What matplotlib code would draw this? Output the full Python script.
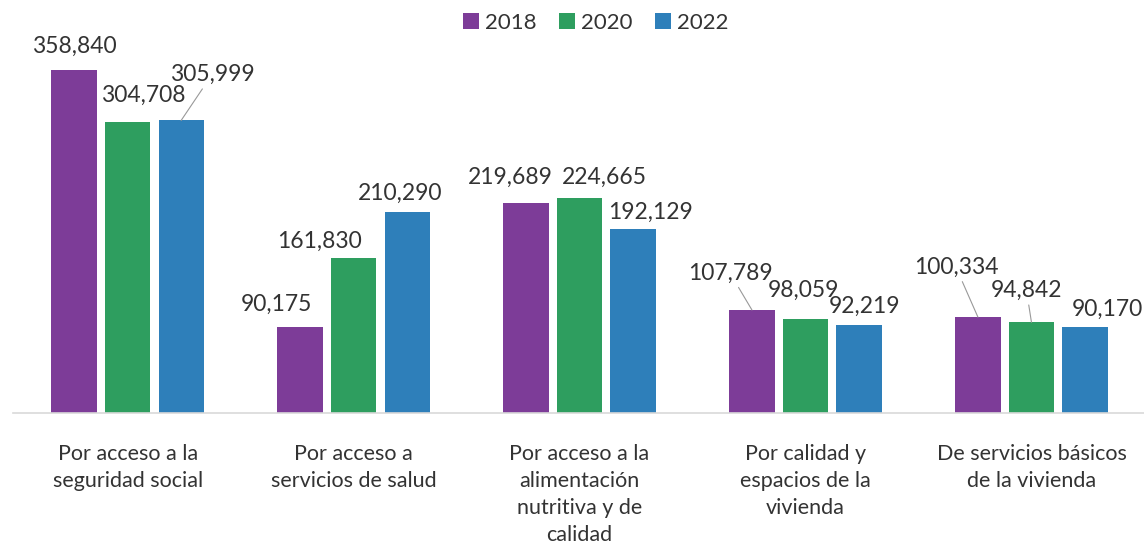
import matplotlib.pyplot as plt
import numpy as np

plt.rcParams['font.family'] = ['Lato', 'DejaVu Sans']

categories = ['Por acceso a la\nseguridad social',
              'Por acceso a\nservicios de salud',
              'Por acceso a la\nalimentación\nnutritiva y de\ncalidad',
              'Por calidad y\nespacios de la\nvivienda',
              'De servicios básicos\nde la vivienda']
years = ['2018', '2020', '2022']
v2018 = [358840, 90175, 219689, 107789, 100334]
v2020 = [304708, 161830, 224665, 98059, 94842]
v2022 = [305999, 210290, 192129, 92219, 90170]

colors = ['#7D3C98', '#2E9E5F', '#2E7FBA']
txt = '#333333'

# label offsets in pixels from bar top (dx, dy), and whether a leader line is drawn
offsets = [
    [(0, 24, False), (16, 26, False), (31, 46, True)],
    [(-24, 22, False), (-34, 17, False), (-7, 19, False)],
    [(-16, 26, False), (25, 21, False), (17, 17, False)],
    [(-22, 37, True), (-2, 29, False), (5, 18, False)],
    [(-22, 50, True), (-5, 32, True), (22, 17, False)],
]

fig = plt.figure(figsize=(11.44, 5.54), dpi=100)
ax = fig.add_axes([13/1144, 141/554, 1131/1144, 382.4/554])

x = np.arange(len(categories))
step = 0.237
width = 0.2
series = [v2018, v2020, v2022]
for i, vals in enumerate(series):
    ax.bar(x + (i - 1) * step, vals, width, color=colors[i], label=years[i])

for i, vals in enumerate(series):
    for j, v in enumerate(vals):
        dx, dy, lead = offsets[j][i]
        xb = x[j] + (i - 1) * step
        props = None
        if lead:
            props = dict(arrowstyle='-', color='#999999', lw=0.8, shrinkA=1, shrinkB=0)
        ax.annotate(f'{v:,}', xy=(xb, v), xytext=(dx, dy), textcoords='offset pixels',
                    ha='center', va='center', fontsize=16.5, color=txt, arrowprops=props)

ax.set_xlim(-0.507, 4.498)
ax.set_ylim(0, 400000)
ax.set_yticks([])
ax.set_xticks(x)
ax.set_xticklabels(categories, fontsize=15.5, color=txt, linespacing=1.45)
ax.tick_params(axis='x', length=0, pad=22)
for s in ['top', 'right', 'left']:
    ax.spines[s].set_visible(False)
ax.spines['bottom'].set_color('#D9D9D9')
ax.spines['bottom'].set_linewidth(1.2)

fig.legend(loc='center', bbox_to_anchor=(596/1144, 1 - 23/554), ncol=3, frameon=False,
           fontsize=16, handlelength=0.7, handleheight=0.7, handletextpad=0.3,
           columnspacing=1.0, labelcolor=txt)

fig.savefig('out.png', dpi=100)
